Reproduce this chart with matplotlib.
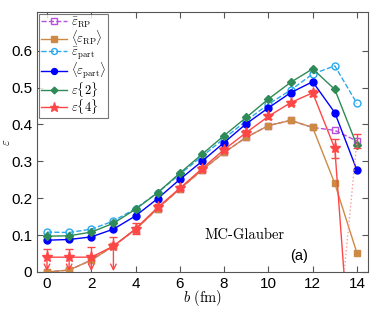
import numpy as np
import matplotlib
matplotlib.use("Agg")
import matplotlib.pyplot as plt
from matplotlib.ticker import FuncFormatter

plt.rcParams['mathtext.fontset'] = 'cm'
plt.rcParams['font.family'] = ['Liberation Sans', 'DejaVu Sans']

# impact parameter b (fm)
b = np.arange(0, 15)

# eccentricity estimates
eps_rp_bar = [0.0, 0.005, 0.032, 0.07, 0.115, 0.172, 0.225, 0.276, 0.324, 0.365, 0.397, 0.411, 0.392, 0.384, 0.355]
eps_rp_mean = [0.0, 0.005, 0.032, 0.07, 0.115, 0.172, 0.225, 0.276, 0.324, 0.365, 0.397, 0.411, 0.392, 0.240, 0.051]
eps_part_bar = [0.108, 0.107, 0.116, 0.138, 0.172, 0.215, 0.265, 0.313, 0.362, 0.410, 0.455, 0.493, 0.537, 0.559, 0.457]
eps_part_mean = [0.086, 0.088, 0.095, 0.116, 0.152, 0.199, 0.251, 0.300, 0.351, 0.402, 0.445, 0.486, 0.516, 0.432, 0.276]
eps2 = [0.097, 0.098, 0.108, 0.132, 0.170, 0.215, 0.268, 0.319, 0.370, 0.419, 0.469, 0.514, 0.551, 0.495, 0.343]
eps4 = [0.040, 0.040, 0.040, 0.070, 0.117, 0.175, 0.227, 0.280, 0.332, 0.378, 0.422, 0.459, 0.486, 0.335, -0.48]
eps4_err_hi = [0.022, 0.022, 0.028, 0.025, 0.015, 0.008, 0.006, 0.006, 0.006, 0.006, 0.006, 0.006, 0.008, 0.025, 0.0]
# upper-limit points (error bar runs down to zero with an arrow)
eps4_uplim = [True, True, True, True, False, False, False, False, False, False, False, False, False, False, False]
# separate b=14 eps{4} point with dotted continuation
b4_tail = [13, 14]
eps4_tail = [-0.26, 0.355]
eps4_tail_err = 0.018

c_purple = '#b94fe0'
c_orange = '#cd8a45'
c_cyan = '#2aa9ef'
c_blue = '#0000ff'
c_green = '#2e8b57'
c_red = '#ff4646'

fig = plt.figure(figsize=(3.74, 3.09), dpi=100)
ax = fig.add_axes([0.099, 0.12, 0.885, 0.841])

ax.plot(b, eps_rp_bar, '--s', color=c_purple, mfc='none', ms=4.5, lw=1, label=r'$\bar{\varepsilon}_{\rm RP}$')
ax.plot(b, eps_rp_mean, '-s', color=c_orange, ms=4.5, lw=1, label=r'$\langle\varepsilon_{\rm RP}\rangle$')
ax.plot(b, eps_part_bar, '--o', color=c_cyan, mfc='none', ms=5, lw=1, label=r'$\bar{\varepsilon}_{\rm part}$')
ax.plot(b, eps_part_mean, '-o', color=c_blue, ms=5, lw=1, label=r'$\langle\varepsilon_{\rm part}\rangle$')
ax.plot(b, eps2, '-D', color=c_green, ms=4, lw=1, label=r'$\varepsilon\{2\}$')

e4 = np.array(eps4)
upl = np.array(eps4_uplim)
err_lo = np.where(upl, e4, np.array(eps4_err_hi))
err_hi = np.array(eps4_err_hi)
ax.plot(b, e4, '-*', color=c_red, ms=8, lw=1, label=r'$\varepsilon\{4\}$')
ax.errorbar(b[upl], e4[upl], yerr=[np.zeros(upl.sum()), err_hi[upl]], fmt='none', ecolor=c_red,
            elinewidth=1, capsize=3)
for bi, yi in zip(b[upl], e4[upl]):
    ax.annotate('', xy=(bi, 0.002), xytext=(bi, yi), annotation_clip=False,
                arrowprops=dict(arrowstyle='->', color=c_red, lw=1, shrinkA=0, shrinkB=0,
                                mutation_scale=10))
ax.errorbar(b[~upl], e4[~upl], yerr=[err_lo[~upl], err_hi[~upl]], fmt='none', ecolor=c_red,
            elinewidth=1, capsize=3)
ax.plot(b4_tail, eps4_tail, ':', color='#ff9a9a', lw=1)
ax.errorbar([b4_tail[1]], [eps4_tail[1]], yerr=eps4_tail_err, fmt='none', ecolor=c_red,
            elinewidth=1, capsize=3)

ax.set_xlim(-0.45, 14.5)
ax.set_ylim(0, 0.705)
ax.set_xticks(range(0, 15, 2))
ax.set_yticks([0, 0.1, 0.2, 0.3, 0.4, 0.5, 0.6])
ax.yaxis.set_major_formatter(FuncFormatter(lambda v, p: '0' if v == 0 else f'{v:.1f}'))
ax.tick_params(direction='in', top=True, right=True, labelsize=11, length=4, color='#555555')
for s in ax.spines.values():
    s.set_color('#555555')

ax.set_xlabel(r'$b\ (\mathrm{fm})$', fontsize=10.5)
ax.xaxis.set_label_coords(0.5, -0.062)
ax.set_ylabel(r'$\varepsilon$', fontsize=9)
ax.yaxis.set_label_coords(-0.072, 0.5)

ax.text(8.9, 0.10, 'MC-Glauber', fontname='cmr10', fontsize=10.5, ha='center', va='center')
ax.text(11.4, 0.043, '(a)', fontsize=10.5, ha='center', va='center')

leg = ax.legend(loc='upper left', fontsize=9, frameon=True, fancybox=False, borderpad=0.15,
                labelspacing=-0.12, handlelength=2.1, handletextpad=0.3, borderaxespad=0.15,
                markerscale=0.85)
leg.get_frame().set_edgecolor('#555555')
leg.get_frame().set_linewidth(0.8)

fig.savefig('out.png', dpi=100)
